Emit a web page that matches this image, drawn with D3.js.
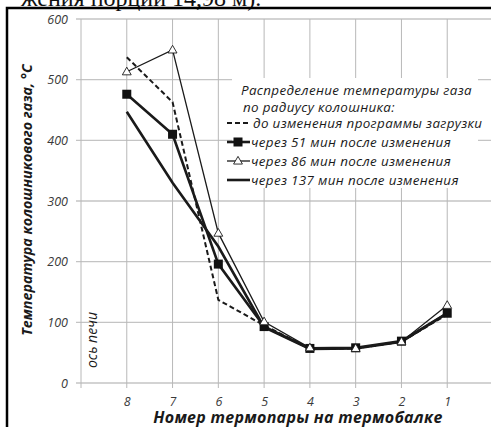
<!DOCTYPE html>
<html>
<head>
<meta charset="utf-8">
<script src="https://cdn.jsdelivr.net/npm/d3@7"></script>
<style>
  body { margin: 0; background: #fff; }
  svg { display: block; }
  text { font-family: "Open Sans", "Liberation Sans", sans-serif; }
</style>
</head>
<body>
<div id="chart"></div>
<script>
// thermocouple numbers along the beam
const categories = ["8", "7", "6", "5", "4", "3", "2", "1"];
const yTicks = [0, 100, 200, 300, 400, 500, 600];

const seriesBefore = [537, 463, 137, 95, 57, 57, 68, 113];
const series51 = [476, 410, 196, 93, 57, 58, 69, 115];
const series86 = [513, 549, 247, 101, 58, 57, 68, 128];
const series137 = [447, 330, 225, 92, 56, 57, 68, 115];

const legendTitle = ["Распределение температуры газа", "по радиусу колошника:"];
const legendLabels = [
  "до изменения программы загрузки",
  "через 51 мин после изменения",
  "через 86 мин после изменения",
  "через 137 мин после изменения"
];

drawChart();

function drawChart() {
  var W = 491, H = 427;
  var left = 81, right = 493, top = 19, bottom = 383;

  const svg = d3.select("#chart").append("svg")
    .attr("width", W)
    .attr("height", H);

  // cut-off text of the page above the figure
  svg.append("text")
    .attr("x", 21).attr("y", 6)
    .style("font-family", "'Liberation Serif', serif")
    .style("font-size", "24px")
    .attr("fill", "#111")
    .text("жения порции 14,98 м).");

  // frame
  svg.append("path")
    .attr("d", "M7,427 V8 H491")
    .attr("fill", "none")
    .attr("stroke", "#000")
    .attr("stroke-width", 2.5);

  // x positions: the first slot is the furnace axis, then 8..1
  var x = d3.scalePoint()
    .domain(["axis"].concat(categories, ["end"]))
    .range([left, right]);

  var y = d3.scaleLinear()
    .domain([0, 600])
    .range([bottom, top]);

  // horizontal grid
  svg.append("g").selectAll("line")
    .data(yTicks)
    .enter().append("line")
    .attr("x1", left - 5).attr("x2", W)
    .attr("y1", d => y(d)).attr("y2", d => y(d))
    .attr("stroke", "#c4c4c4")
    .attr("stroke-width", 1.3);

  // vertical grid
  svg.append("g").selectAll("line")
    .data(categories)
    .enter().append("line")
    .attr("x1", d => x(d)).attr("x2", d => x(d))
    .attr("y1", top).attr("y2", bottom + 5)
    .attr("stroke", "#b8b8b8")
    .attr("stroke-width", 1);

  // y axis line
  svg.append("line")
    .attr("x1", left).attr("x2", left)
    .attr("y1", top).attr("y2", bottom + 5)
    .attr("stroke", "#b8b8b8");

  // y tick labels
  var yAxis = svg.append("g")
    .attr("transform", "translate(" + (left - 13) + ",0)")
    .call(d3.axisLeft(y).tickValues(yTicks).tickSize(0).tickPadding(0));
  yAxis.select(".domain").remove();
  yAxis.selectAll("text")
    .style("font-family", "'Open Sans', sans-serif")
    .style("font-style", "italic")
    .style("font-size", "12.5px")
    .attr("fill", "#3a3a3a");

  // x tick labels
  var xAxis = svg.append("g")
    .attr("transform", "translate(0," + (bottom + 14) + ")")
    .call(d3.axisBottom(x).tickValues(categories).tickSize(0).tickPadding(0));
  xAxis.select(".domain").remove();
  xAxis.selectAll("text")
    .attr("dy", "0.71em")
    .style("font-family", "'Open Sans', sans-serif")
    .style("font-style", "italic")
    .style("font-size", "12.5px")
    .attr("fill", "#3a3a3a");

  // legend background
  svg.append("rect")
    .attr("x", 232).attr("y", 78)
    .attr("width", 246).attr("height", 110)
    .attr("fill", "#fff");

  var line = d3.line()
    .x((d, i) => x(categories[i]))
    .y(d => y(d));

  // series
  svg.append("path").datum(seriesBefore)
    .attr("d", line)
    .attr("fill", "none").attr("stroke", "#1a1a1a")
    .attr("stroke-width", 2).attr("stroke-dasharray", "5,3");

  svg.append("path").datum(series137)
    .attr("d", line)
    .attr("fill", "none").attr("stroke", "#1a1a1a")
    .attr("stroke-width", 2.6);

  svg.append("path").datum(series86)
    .attr("d", line)
    .attr("fill", "none").attr("stroke", "#1a1a1a")
    .attr("stroke-width", 1.3);

  svg.append("path").datum(series51)
    .attr("d", line)
    .attr("fill", "none").attr("stroke", "#1a1a1a")
    .attr("stroke-width", 2.6);

  svg.append("g").selectAll("rect")
    .data(series51)
    .enter().append("rect")
    .attr("x", (d, i) => x(categories[i]) - 4.5)
    .attr("y", d => y(d) - 4.5)
    .attr("width", 9).attr("height", 9)
    .attr("fill", "#111");

  var tri = d3.symbol().type(d3.symbolTriangle).size(34);
  svg.append("g").selectAll("path")
    .data(series86)
    .enter().append("path")
    .attr("d", tri)
    .attr("transform", (d, i) => "translate(" + x(categories[i]) + "," + (y(d) + 0.5) + ")")
    .attr("fill", "#fff")
    .attr("stroke", "#1a1a1a")
    .attr("stroke-width", 0.9);

  // legend
  var lg = svg.append("g")
    .style("font-family", "'Open Sans', sans-serif")
    .style("font-style", "italic")
    .style("font-size", "13.4px")
    .style("letter-spacing", "0.35px")
    .attr("fill", "#1a1a1a");

  lg.selectAll("text.title")
    .data(legendTitle)
    .enter().append("text")
    .attr("class", "title")
    .attr("x", (d, i) => i === 0 ? 241 : 243)
    .attr("y", (d, i) => 95 + i * 17)
    .text(d => d);

  var rowY = [123, 142, 161, 180];
  lg.selectAll("text.item")
    .data(legendLabels)
    .enter().append("text")
    .attr("class", "item")
    .attr("x", (d, i) => i === 0 ? 253 : 251)
    .attr("y", (d, i) => rowY[i] + 5)
    .text(d => d);

  var styles = [
    { w: 2, dash: "5,3" },
    { w: 2.6, dash: null },
    { w: 1.3, dash: null },
    { w: 2.6, dash: null }
  ];
  lg.selectAll("line")
    .data(styles)
    .enter().append("line")
    .attr("x1", 227).attr("x2", 250)
    .attr("y1", (d, i) => rowY[i]).attr("y2", (d, i) => rowY[i])
    .attr("stroke", "#1a1a1a")
    .attr("stroke-width", d => d.w)
    .attr("stroke-dasharray", d => d.dash);

  lg.append("rect")
    .attr("x", 238 - 4.5).attr("y", rowY[1] - 4.5)
    .attr("width", 9).attr("height", 9)
    .attr("fill", "#111");
  lg.append("path")
    .attr("d", tri)
    .attr("transform", "translate(238," + (rowY[2] + 0.5) + ")")
    .attr("fill", "#fff").attr("stroke", "#1a1a1a").attr("stroke-width", 0.9);

  // axis titles
  svg.append("text")
    .attr("transform", "translate(32,200) rotate(-90)")
    .attr("text-anchor", "middle")
    .style("font-family", "'Open Sans', sans-serif")
    .style("font-style", "italic")
    .style("font-weight", "bold")
    .style("font-size", "14.3px")
    .attr("fill", "#1a1a1a")
    .text("Температура колошникового газа, °С");

  svg.append("text")
    .attr("x", 298).attr("y", 423)
    .attr("text-anchor", "middle")
    .style("font-family", "'Open Sans', sans-serif")
    .style("font-style", "italic")
    .style("font-weight", "bold")
    .style("font-size", "16px")
    .style("letter-spacing", "0.3px")
    .attr("fill", "#1a1a1a")
    .text("Номер термопары на термобалке");

  svg.append("text")
    .attr("transform", "translate(97,340) rotate(-90)")
    .attr("text-anchor", "middle")
    .style("font-family", "'Open Sans', sans-serif")
    .style("font-style", "italic")
    .style("font-size", "14px")
    .attr("fill", "#1a1a1a")
    .text("ось печи");
}
</script>
</body>
</html>
